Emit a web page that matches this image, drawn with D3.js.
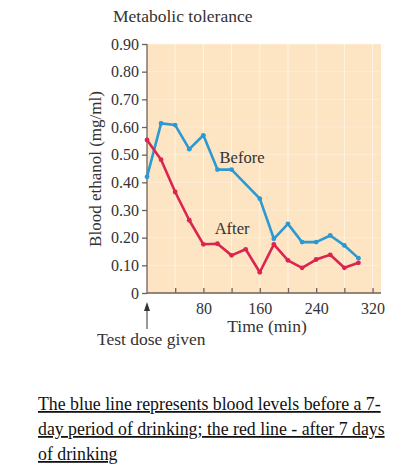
<!DOCTYPE html>
<html>
<head>
<meta charset="utf-8">
<script src="https://cdn.jsdelivr.net/npm/d3@7"></script>
<style>
body { margin: 0; background: #fff; }
text { font-family: "Liberation Serif", "DejaVu Serif", serif; }
</style>
</head>
<body>
<div id="chart-area"></div>
<script>
// values
var times = [0, 20, 40, 60, 80, 100, 120, 140, 160, 180, 200, 220, 240, 260, 280, 300];
var before = [0.42, 0.613, 0.607, 0.52, 0.57, 0.446, 0.446, null, 0.341, 0.196, 0.25, 0.184, 0.184, 0.208, 0.172, 0.126];
var after = [0.553, 0.482, 0.365, 0.263, 0.176, 0.178, 0.136, 0.158, 0.075, 0.176, 0.118, 0.091, 0.121, 0.138, 0.091, 0.109];
var yTicks = [0, 0.1, 0.2, 0.3, 0.4, 0.5, 0.6, 0.7, 0.8, 0.9];
var xTicks = [40, 80, 120, 160, 200, 240, 280, 320];
var xLabels = [80, 160, 240, 320];
var captionLines = [
    "The blue line represents blood levels before a 7-",
    "day period of drinking; the red line - after 7 days",
    "of drinking"
];

var margin = { left:147, right:12, top:44, bottom:173 };
var width = 393 - margin.left - margin.right;
var height = 466 - margin.top - margin.bottom;

var svg = d3.select("#chart-area")
    .append("svg")
    .attr("width", 393)
    .attr("height", 466);

var g = svg.append("g")
    .attr("transform", "translate(" + margin.left + ", " + margin.top + ")");

var x = d3.scaleLinear()
    .domain([0, 332])
    .range([0, width]);

var y = d3.scaleLinear()
    .domain([0, 0.9])
    .range([height, 0]);

// background + grid
g.append("rect")
    .attr("width", width)
    .attr("height", height)
    .attr("fill", "#fde4c2");

g.selectAll(".vgrid")
    .data(xTicks)
    .enter()
    .append("line")
    .attr("x1", d => x(d)).attr("x2", d => x(d))
    .attr("y1", 0).attr("y2", height)
    .attr("stroke", "#fff")
    .attr("stroke-opacity", 0.6)
    .attr("stroke-width", 1);

g.selectAll(".hgrid")
    .data(yTicks.slice(1))
    .enter()
    .append("line")
    .attr("x1", 0).attr("x2", width)
    .attr("y1", d => y(d)).attr("y2", d => y(d))
    .attr("stroke", "#fff")
    .attr("stroke-opacity", 0.35)
    .attr("stroke-width", 1);

// axes
var axisColor = "#6e6258";

var yAxisCall = d3.axisLeft(y)
    .tickValues(yTicks)
    .tickSize(5)
    .tickPadding(3)
    .tickFormat(d => d === 0 ? "0" : d3.format(".2f")(d));
var yAxis = g.append("g")
    .attr("class", "y-axis")
    .call(yAxisCall);
yAxis.select(".domain").attr("d", "M0,0V" + height);

var xAxisCall = d3.axisBottom(x)
    .tickValues(xTicks)
    .tickSize(-5)
    .tickPadding(10)
    .tickFormat(d => xLabels.indexOf(d) >= 0 ? d : "");
var xAxis = g.append("g")
    .attr("class", "x-axis")
    .attr("transform", "translate(0, " + height + ")")
    .call(xAxisCall);
xAxis.select(".domain").attr("d", "M0,0H" + width);

g.selectAll(".domain, .tick line")
    .attr("stroke", axisColor)
    .attr("stroke-width", 1.3);
g.selectAll(".tick text")
    .attr("fill", "#333")
    .attr("font-size", "16px")
    .attr("font-family", "Liberation Serif, serif");

// lines
var pts = function(vals) {
    return times.map((t, i) => ({ t: t, v: vals[i] })).filter(d => d.v !== null);
};
var line = d3.line()
    .x(d => x(d.t))
    .y(d => y(d.v));

var series = [
    { name: "Before", vals: before, color: "#2b9ad3" },
    { name: "After", vals: after, color: "#dc2451" }
];

series.forEach(s => {
    var data = pts(s.vals);
    g.append("path")
        .datum(data)
        .attr("fill", "none")
        .attr("stroke", s.color)
        .attr("stroke-width", 2.6)
        .attr("stroke-linejoin", "round")
        .attr("d", line);
    g.selectAll(".dot-" + s.name)
        .data(data)
        .enter()
        .append("circle")
        .attr("cx", d => x(d.t))
        .attr("cy", d => y(d.v))
        .attr("r", 2.4)
        .attr("fill", s.color);
});

// series labels
g.append("text")
    .attr("x", x(103))
    .attr("y", y(0.47))
    .attr("font-size", "16.5px")
    .attr("fill", "#333")
    .text("Before");
g.append("text")
    .attr("x", x(96))
    .attr("y", y(0.215))
    .attr("font-size", "16.5px")
    .attr("fill", "#333")
    .text("After");

// titles
svg.append("text")
    .attr("x", 113)
    .attr("y", 22)
    .attr("font-size", "17.5px")
    .attr("fill", "#333")
    .text("Metabolic tolerance");

svg.append("text")
    .attr("transform", "translate(101, 169) rotate(-90)")
    .attr("text-anchor", "middle")
    .attr("font-size", "17px")
    .attr("fill", "#333")
    .text("Blood ethanol (mg/ml)");

svg.append("text")
    .attr("x", 267)
    .attr("y", 332)
    .attr("text-anchor", "middle")
    .attr("font-size", "17.5px")
    .attr("fill", "#333")
    .text("Time (min)");

// test dose arrow
svg.append("line")
    .attr("x1", margin.left).attr("x2", margin.left)
    .attr("y1", 310).attr("y2", 329)
    .attr("stroke", "#333")
    .attr("stroke-width", 1);
svg.append("path")
    .attr("d", "M" + margin.left + ",302 l-3,9 h6 z")
    .attr("fill", "#333");
svg.append("text")
    .attr("x", 97)
    .attr("y", 345)
    .attr("font-size", "17.5px")
    .attr("fill", "#333")
    .text("Test dose given");

// caption
svg.selectAll(".caption")
    .data(captionLines)
    .enter()
    .append("text")
    .attr("class", "caption")
    .attr("x", 38)
    .attr("y", (d, i) => 410 + i * 25)
    .attr("font-size", "17.8px")
    .attr("fill", "#111")
    .attr("text-decoration", "underline")
    .text(d => d);
</script>
</body>
</html>
